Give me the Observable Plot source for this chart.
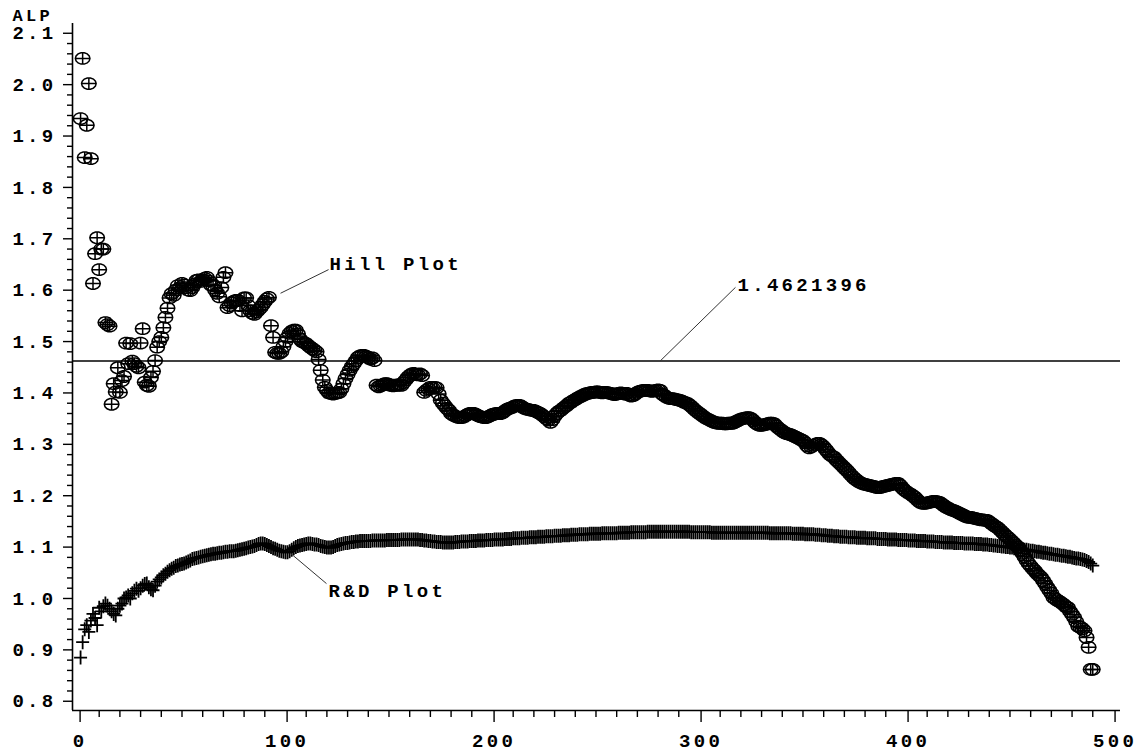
<!DOCTYPE html>
<html>
<head>
<meta charset="utf-8">
<script src="https://cdn.jsdelivr.net/npm/d3@7"></script>
<script src="https://cdn.jsdelivr.net/npm/@observablehq/plot@0.6"></script>
<style>
  html, body { margin: 0; padding: 0; background: #fff; }
  #chart svg text { letter-spacing: 3.3px; }
  #chart svg text.alp { letter-spacing: 6px; }
</style>
</head>
<body>
<div id="chart"></div>
<script>
// ---------------- data ----------------
const yLabel = "ALP";
const hillRef = 1.4621396;

const yTicks = [0.8, 0.9, 1.0, 1.1, 1.2, 1.3, 1.4, 1.5, 1.6, 1.7, 1.8, 1.9, 2.0, 2.1];
const xTicks = [0, 100, 200, 300, 400, 500];

// Hill plot estimates, k = 1..490
const hillValues = [
 1.934,2.051,1.858,1.921,2.002,1.856,1.613,1.671,1.702,1.640,
 1.680,1.680,1.537,1.533,1.530,1.378,1.418,1.402,1.449,1.401,
 1.424,1.432,1.497,1.457,1.496,1.462,1.457,1.452,1.449,1.497,
 1.525,1.421,1.415,1.413,1.430,1.442,1.463,1.489,1.500,1.508,
 1.527,1.547,1.565,1.585,1.593,1.590,1.600,1.609,1.605,1.613,
 1.610,1.605,1.600,1.599,1.605,1.612,1.619,1.620,1.617,1.620,
 1.623,1.625,1.618,1.610,1.609,1.600,1.594,1.587,1.605,1.625,
 1.634,1.566,1.570,1.575,1.578,1.580,1.580,1.570,1.560,1.585,
 1.585,1.570,1.560,1.555,1.553,1.558,1.562,1.566,1.572,1.578,
 1.583,1.586,1.531,1.508,1.479,1.477,1.477,1.480,1.490,1.500,
 1.508,1.516,1.520,1.522,1.522,1.515,1.505,1.500,1.498,1.496,
 1.492,1.489,1.486,1.483,1.480,1.465,1.444,1.425,1.411,1.405,
 1.400,1.399,1.398,1.399,1.400,1.401,1.408,1.418,1.428,1.436,
 1.444,1.451,1.457,1.463,1.469,1.472,1.473,1.473,1.471,1.469,
 1.466,1.468,1.463,1.415,1.412,1.414,1.416,1.418,1.418,1.416,
 1.415,1.414,1.415,1.415,1.416,1.415,1.420,1.425,1.430,1.434,
 1.437,1.438,1.436,1.435,1.437,1.434,1.401,1.405,1.408,1.411,
 1.410,1.411,1.410,1.398,1.386,1.380,1.375,1.370,1.366,1.360,
 1.357,1.355,1.353,1.352,1.352,1.353,1.356,1.358,1.360,1.360,
 1.360,1.358,1.356,1.354,1.353,1.352,1.352,1.354,1.356,1.358,
 1.359,1.360,1.360,1.360,1.362,1.365,1.368,1.370,1.371,1.373,
 1.375,1.376,1.376,1.374,1.371,1.369,1.368,1.367,1.366,1.366,
 1.364,1.362,1.360,1.357,1.354,1.350,1.347,1.343,1.348,1.355,
 1.360,1.364,1.366,1.370,1.373,1.376,1.380,1.382,1.385,1.387,
 1.390,1.392,1.394,1.396,1.398,1.399,1.400,1.401,1.401,1.402,
 1.402,1.401,1.400,1.401,1.401,1.400,1.399,1.398,1.397,1.398,
 1.399,1.400,1.399,1.398,1.399,1.396,1.394,1.395,1.398,1.401,
 1.403,1.404,1.405,1.405,1.405,1.404,1.403,1.404,1.405,1.406,
 1.405,1.398,1.395,1.392,1.390,1.389,1.389,1.388,1.387,1.386,
 1.385,1.383,1.381,1.380,1.377,1.374,1.370,1.366,1.363,1.360,
 1.357,1.354,1.351,1.349,1.347,1.345,1.343,1.342,1.341,1.341,
 1.341,1.340,1.340,1.341,1.341,1.341,1.343,1.345,1.347,1.349,
 1.350,1.351,1.352,1.352,1.350,1.346,1.342,1.339,1.337,1.337,
 1.338,1.339,1.340,1.341,1.341,1.340,1.336,1.332,1.329,1.326,
 1.323,1.321,1.320,1.319,1.317,1.315,1.313,1.311,1.309,1.307,
 1.303,1.297,1.293,1.295,1.298,1.300,1.302,1.302,1.299,1.295,
 1.290,1.285,1.280,1.277,1.275,1.270,1.266,1.262,1.258,1.254,
 1.250,1.246,1.241,1.237,1.233,1.230,1.227,1.225,1.223,1.222,
 1.221,1.220,1.219,1.218,1.217,1.216,1.216,1.217,1.218,1.219,
 1.220,1.221,1.222,1.223,1.224,1.224,1.220,1.215,1.211,1.208,
 1.205,1.203,1.200,1.197,1.193,1.189,1.186,1.185,1.185,1.186,
 1.187,1.188,1.189,1.189,1.188,1.187,1.184,1.181,1.178,1.176,
 1.174,1.172,1.171,1.169,1.167,1.165,1.163,1.161,1.159,1.158,
 1.158,1.157,1.156,1.155,1.154,1.153,1.153,1.152,1.152,1.149,
 1.146,1.143,1.140,1.138,1.134,1.130,1.126,1.122,1.119,1.115,
 1.111,1.107,1.103,1.100,1.094,1.088,1.081,1.074,1.068,1.063,
 1.058,1.054,1.049,1.045,1.041,1.035,1.029,1.022,1.016,1.010,
 1.002,0.999,0.996,0.994,0.991,0.988,0.984,0.982,0.975,0.969,
 0.963,0.955,0.946,0.944,0.941,0.937,0.924,0.905,0.862,0.862
];

// R&D plot estimates, k = 1..490
const rdValues = [
 0.885,0.915,0.940,0.948,0.935,0.957,0.970,0.962,0.948,0.982,
 0.975,0.985,0.990,0.986,0.980,0.975,0.970,0.967,0.980,0.986,
 0.990,1.000,1.002,1.006,1.000,1.010,1.015,1.019,1.015,1.020,
 1.025,1.028,1.029,1.022,1.018,1.016,1.025,1.033,1.037,1.041,
 1.045,1.048,1.052,1.055,1.058,1.060,1.063,1.064,1.066,1.067,
 1.068,1.070,1.072,1.074,1.077,1.078,1.079,1.080,1.081,1.082,
 1.083,1.084,1.085,1.086,1.087,1.087,1.088,1.089,1.089,1.090,
 1.091,1.091,1.092,1.092,1.092,1.093,1.094,1.095,1.096,1.097,
 1.098,1.099,1.100,1.101,1.102,1.104,1.106,1.107,1.107,1.106,
 1.104,1.102,1.100,1.098,1.097,1.095,1.093,1.092,1.091,1.090,
 1.090,1.092,1.095,1.098,1.100,1.102,1.103,1.104,1.105,1.106,
 1.107,1.107,1.106,1.105,1.105,1.104,1.102,1.101,1.100,1.099,
 1.099,1.099,1.100,1.102,1.104,1.105,1.106,1.107,1.108,1.108,
 1.109,1.110,1.110,1.111,1.111,1.112,1.112,1.112,1.112,1.112,
 1.112,1.113,1.113,1.113,1.113,1.113,1.113,1.113,1.114,1.114,
 1.114,1.114,1.114,1.114,1.114,1.115,1.115,1.115,1.115,1.115,
 1.115,1.115,1.115,1.115,1.114,1.114,1.113,1.113,1.112,1.112,
 1.111,1.111,1.110,1.110,1.110,1.109,1.109,1.109,1.109,1.109,
 1.109,1.110,1.110,1.110,1.111,1.111,1.111,1.111,1.112,1.112,
 1.112,1.112,1.113,1.113,1.113,1.113,1.114,1.114,1.114,1.114,
 1.115,1.115,1.115,1.115,1.115,1.116,1.116,1.116,1.116,1.117,
 1.117,1.117,1.117,1.118,1.118,1.118,1.118,1.119,1.119,1.119,
 1.119,1.120,1.120,1.120,1.120,1.121,1.121,1.121,1.121,1.122,
 1.122,1.122,1.122,1.123,1.123,1.123,1.123,1.124,1.124,1.124,
 1.124,1.125,1.125,1.125,1.125,1.125,1.126,1.126,1.126,1.126,
 1.126,1.126,1.127,1.127,1.127,1.127,1.127,1.127,1.127,1.127,
 1.128,1.128,1.128,1.128,1.128,1.128,1.129,1.129,1.129,1.129,
 1.129,1.129,1.129,1.129,1.130,1.130,1.130,1.130,1.130,1.130,
 1.130,1.130,1.130,1.130,1.130,1.130,1.130,1.130,1.130,1.130,
 1.130,1.130,1.130,1.130,1.130,1.129,1.129,1.129,1.129,1.129,
 1.129,1.129,1.129,1.129,1.129,1.128,1.128,1.128,1.128,1.128,
 1.128,1.128,1.128,1.128,1.128,1.128,1.128,1.128,1.128,1.128,
 1.128,1.128,1.128,1.128,1.128,1.128,1.128,1.128,1.128,1.128,
 1.128,1.128,1.128,1.127,1.127,1.127,1.127,1.127,1.127,1.127,
 1.127,1.127,1.127,1.127,1.126,1.126,1.126,1.126,1.126,1.126,
 1.125,1.125,1.125,1.125,1.125,1.124,1.124,1.124,1.123,1.123,
 1.123,1.122,1.122,1.122,1.121,1.121,1.121,1.120,1.120,1.120,
 1.120,1.119,1.119,1.119,1.119,1.118,1.118,1.118,1.118,1.118,
 1.117,1.117,1.117,1.117,1.117,1.116,1.116,1.116,1.116,1.116,
 1.115,1.115,1.115,1.115,1.115,1.114,1.114,1.114,1.114,1.114,
 1.113,1.113,1.113,1.113,1.112,1.112,1.112,1.112,1.112,1.111,
 1.111,1.111,1.111,1.110,1.110,1.110,1.110,1.109,1.109,1.109,
 1.109,1.109,1.108,1.108,1.108,1.108,1.108,1.107,1.107,1.107,
 1.107,1.107,1.106,1.106,1.106,1.106,1.105,1.105,1.105,1.104,
 1.104,1.103,1.103,1.102,1.102,1.101,1.101,1.100,1.100,1.099,
 1.099,1.098,1.098,1.097,1.097,1.096,1.095,1.095,1.094,1.093,
 1.093,1.092,1.091,1.091,1.090,1.089,1.089,1.088,1.087,1.087,
 1.086,1.085,1.085,1.084,1.083,1.083,1.082,1.081,1.081,1.080,
 1.079,1.078,1.078,1.077,1.076,1.075,1.073,1.071,1.068,1.064
];

// annotation labels with leader lines (data coordinates)
const annotations = [
  {label: "Hill Plot", x1: 97.6, y1: 1.594, x2: 120.8, y2: 1.640, anchor: "bottom"},
  {label: "R&D Plot", x1: 102.4, y1: 1.088, x2: 119.8, y2: 1.029, anchor: "top"},
  {label: "1.4621396", x1: 281, y1: hillRef, x2: 317.4, y2: 1.6055, anchor: "middle"}
];

// ---------------- build ----------------
const hill = hillValues.map((v, i) => ({k: i + 1, alp: v}));
const rd = rdValues.map((v, i) => ({k: i + 1, alp: v}));

const xDomain = [-2.9, 503.4];
const yDomain = [0.782, 2.119];
const yMinor = d3.range(80, 211, 2).map(d => d / 100).filter(d => Math.round(d * 100) % 10 !== 0);
const xMinor = d3.range(0, 501, 10).filter(d => d % 100 !== 0);

const circlePlus = {
  draw(ctx) {
    const rx = 7.3, ry = 5.8, n = 14;
    for (let i = 0; i < n; i++) {
      const a = 2 * Math.PI * i / n;
      const px = rx * Math.cos(a), py = ry * Math.sin(a);
      if (i === 0) ctx.moveTo(px, py); else ctx.lineTo(px, py);
    }
    ctx.closePath();
    ctx.moveTo(-rx, 0); ctx.lineTo(rx, 0);
    ctx.moveTo(0, -ry); ctx.lineTo(0, ry);
  }
};
const plusSym = {
  draw(ctx) {
    ctx.moveTo(-6.5, 0); ctx.lineTo(6.5, 0);
    ctx.moveTo(0, -7); ctx.lineTo(0, 7);
  }
};

const font = "Liberation Mono, Courier New, monospace";
const fs = 19;

const chart = Plot.plot({
  width: 1139,
  height: 753,
  marginLeft: 72,
  marginTop: 23,
  marginRight: 19,
  marginBottom: 43,
  x: {domain: xDomain, axis: null},
  y: {domain: yDomain, axis: null},
  style: {background: "#fff", fontFamily: font, color: "#000", overflow: "visible"},
  marks: [
    Plot.ruleX([xDomain[0]], {stroke: "#000", strokeWidth: 1.6}),
    Plot.ruleY([yDomain[0]], {stroke: "#000", strokeWidth: 1.6}),
    Plot.axisY(yTicks, {anchor: "left", tickSize: 9, tickPadding: 7, tickFormat: d => d.toFixed(1),
      fontSize: fs, fontWeight: "bold", fontFamily: font, label: null, strokeWidth: 1.4}),
    Plot.axisY(yMinor, {anchor: "left", tickSize: 5, tickFormat: () => "", label: null, strokeWidth: 1.4}),
    Plot.axisX(xTicks, {anchor: "bottom", tickSize: 12, tickPadding: 11, tickFormat: d => String(d),
      fontSize: fs, fontWeight: "bold", fontFamily: font, label: null, strokeWidth: 1.4, dx: 1.6}),
    Plot.axisX(xMinor, {anchor: "bottom", tickSize: 7, tickFormat: () => "", label: null, strokeWidth: 1.4}),
    Plot.text([yLabel], {frameAnchor: "top-left", dx: -60, dy: -3, textAnchor: "start", lineAnchor: "bottom",
      fontSize: 17, fontWeight: "bold", fontFamily: font, className: "alp"}),
    Plot.ruleY([hillRef], {stroke: "#000", strokeWidth: 1.3}),
    Plot.dot(rd, {x: "k", y: "alp", symbol: plusSym, stroke: "#000", strokeWidth: 1.8, fill: "none"}),
    Plot.dot(hill, {x: "k", y: "alp", symbol: circlePlus, stroke: "#000", strokeWidth: 1.5, fill: "none"}),
    Plot.link(annotations, {x1: "x1", y1: "y1", x2: "x2", y2: "y2", stroke: "#333", strokeWidth: 1}),
    Plot.text(annotations.filter(a => a.anchor === "bottom"), {x: "x2", y: "y2", text: "label", textAnchor: "start", lineAnchor: "bottom", dx: 1,
      fontSize: fs, fontWeight: "bold", fontFamily: font}),
    Plot.text(annotations.filter(a => a.anchor === "top"), {x: "x2", y: "y2", text: "label", textAnchor: "start", lineAnchor: "top", dx: 2,
      fontSize: fs, fontWeight: "bold", fontFamily: font}),
    Plot.text(annotations.filter(a => a.anchor === "middle"), {x: "x2", y: "y2", text: "label", textAnchor: "start", lineAnchor: "middle", dx: 2, dy: -2,
      fontSize: fs, fontWeight: "bold", fontFamily: font})
  ]
});
document.getElementById("chart").appendChild(chart);
</script>
</body>
</html>
